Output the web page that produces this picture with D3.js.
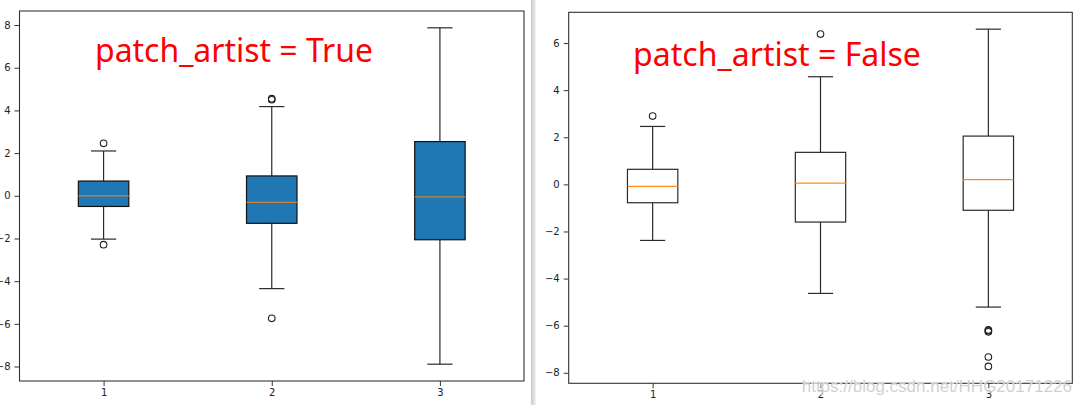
<!DOCTYPE html>
<html>
<head>
<meta charset="utf-8">
<script src="https://cdn.jsdelivr.net/npm/d3@7"></script>
<style>
  html, body { margin: 0; padding: 0; background: #fff; }
  svg { display: block; }
</style>
</head>
<body>
<svg id="chart" width="1083" height="405"></svg>
<script>
// ---------------- data ----------------
const categories = [1, 2, 3];
const yTicks = [-8, -6, -4, -2, 0, 2, 4, 6, 8];

// left panel (patch_artist = True)
const leftWhiskerLow  = [-2.03, -4.35, -7.89];
const leftQ1          = [-0.50, -1.29, -2.06];
const leftMedian      = [ 0.00, -0.31, -0.05];
const leftQ3          = [ 0.69,  0.93,  2.54];
const leftWhiskerHigh = [ 2.10,  4.18,  7.87];
const leftOutliers    = [[2.46, -2.29], [4.50, 4.55, -5.74], []];

// right panel (patch_artist = False)
const rightWhiskerLow  = [-2.38, -4.63, -5.21];
const rightQ1          = [-0.78, -1.60, -1.10];
const rightMedian      = [-0.085, 0.055, 0.20];
const rightQ3          = [ 0.64,  1.36,  2.05];
const rightWhiskerHigh = [ 2.46,  4.57,  6.59];
const rightOutliers    = [[2.90], [6.38], [-6.18, -6.22, -6.26, -7.33, -7.73]];

const titles = ["patch_artist = True", "patch_artist = False"];
const watermark = "https://blog.csdn.net/HHG20171226";

// ---------------- drawing ----------------
const svg = d3.select("#chart");
svg.append("rect").attr("width", 1083).attr("height", 405).attr("fill", "#fff");

function buildStats(lo, q1, med, q3, hi, outs) {
  return categories.map((c, i) => ({
    pos: c, lo: lo[i], q1: q1[i], med: med[i], q3: q3[i], hi: hi[i], outs: outs[i]
  }));
}

function drawPanel(opts) {
  const { stats, frame, patch, title, titleX, titleY, titleWidth } = opts;
  const allVals = stats.flatMap(s => [s.lo, s.hi, ...s.outs]);
  const mn = d3.min(allVals), mx = d3.max(allVals);
  const pad = (mx - mn) * 0.05;
  const y = d3.scaleLinear().domain([mn - pad, mx + pad]).range([frame.bottom, frame.top]);
  const x = d3.scaleLinear().domain([0.5, 3.5]).range([frame.left, frame.right]);
  const boxW = 0.3, capW = 0.15;

  const g = svg.append("g");

  // y axis
  const yAxis = d3.axisLeft(y).tickValues(yTicks).tickSize(5).tickPadding(4)
      .tickFormat(d => d < 0 ? "\u2212" + Math.abs(d) : String(d));
  const ya = g.append("g").attr("transform", `translate(${frame.left},0)`).call(yAxis);
  // x axis
  const xAxis = d3.axisBottom(x).tickValues(categories).tickSize(5).tickPadding(3)
      .tickFormat(d3.format("d"));
  const xa = g.append("g").attr("transform", `translate(0,${frame.bottom})`).call(xAxis);
  [ya, xa].forEach(a => {
    a.select(".domain").remove();
    a.selectAll(".tick line").attr("stroke", "#333");
    a.selectAll(".tick text").attr("fill", "#222")
      .style("font-family", "'DejaVu Sans', sans-serif").style("font-size", "10px");
  });

  // frame
  g.append("rect")
    .attr("x", frame.left).attr("y", frame.top)
    .attr("width", frame.right - frame.left).attr("height", frame.bottom - frame.top)
    .attr("fill", "none").attr("stroke", "#333").attr("stroke-width", 1.1);

  const bx = g.selectAll("g.box").data(stats).join("g").attr("class", "box");
  const lineCol = "#2a2a2a";
  // whiskers
  bx.append("line")
    .attr("x1", d => x(d.pos)).attr("x2", d => x(d.pos))
    .attr("y1", d => y(d.q3)).attr("y2", d => y(d.hi))
    .attr("stroke", lineCol).attr("stroke-width", 1.2);
  bx.append("line")
    .attr("x1", d => x(d.pos)).attr("x2", d => x(d.pos))
    .attr("y1", d => y(d.q1)).attr("y2", d => y(d.lo))
    .attr("stroke", lineCol).attr("stroke-width", 1.2);
  // caps
  ["hi", "lo"].forEach(k => {
    bx.append("line")
      .attr("x1", d => x(d.pos - capW / 2)).attr("x2", d => x(d.pos + capW / 2))
      .attr("y1", d => y(d[k])).attr("y2", d => y(d[k]))
      .attr("stroke", lineCol).attr("stroke-width", 1.2);
  });
  // box
  bx.append("rect")
    .attr("x", d => x(d.pos - boxW / 2)).attr("width", d => x(d.pos + boxW / 2) - x(d.pos - boxW / 2))
    .attr("y", d => y(d.q3)).attr("height", d => y(d.q1) - y(d.q3))
    .attr("fill", patch ? "#1f77b4" : "none")
    .attr("stroke", patch ? "#111" : lineCol).attr("stroke-width", 1.2);
  // median
  bx.append("line")
    .attr("x1", d => x(d.pos - boxW / 2)).attr("x2", d => x(d.pos + boxW / 2))
    .attr("y1", d => y(d.med)).attr("y2", d => y(d.med))
    .attr("stroke", patch ? "#c4843f" : "#ff8c1a").attr("stroke-width", 1.3);
  // fliers
  bx.selectAll("circle").data(d => d.outs.map(v => ({ pos: d.pos, v })))
    .join("circle")
    .attr("cx", d => x(d.pos)).attr("cy", d => y(d.v)).attr("r", 3.3)
    .attr("fill", "none").attr("stroke", "#222").attr("stroke-width", 1.1);

  // annotation text
  const t = g.append("text")
    .attr("x", titleX).attr("y", titleY)
    .attr("fill", "#ff0000")
    .style("font-family", "'Noto Sans', 'Open Sans', sans-serif")
    .style("font-size", "33px")
    .text(title);
  const len = t.node().getComputedTextLength();
  t.style("font-size", (33 * titleWidth / len).toFixed(2) + "px");
}

drawPanel({
  stats: buildStats(leftWhiskerLow, leftQ1, leftMedian, leftQ3, leftWhiskerHigh, leftOutliers),
  frame: { left: 19.5, right: 524, top: 11, bottom: 381 },
  patch: true, title: titles[0], titleX: 95, titleY: 61.5, titleWidth: 278
});

// separator between the two screenshots
const sepGrad = svg.append("defs").append("linearGradient").attr("id", "sep")
  .attr("x1", "0%").attr("x2", "100%");
sepGrad.append("stop").attr("offset", "0%").attr("stop-color", "#c8c8c8");
sepGrad.append("stop").attr("offset", "100%").attr("stop-color", "#f2f2f2");
svg.append("rect").attr("x", 531).attr("y", 0).attr("width", 5).attr("height", 405)
  .attr("fill", "url(#sep)");

drawPanel({
  stats: buildStats(rightWhiskerLow, rightQ1, rightMedian, rightQ3, rightWhiskerHigh, rightOutliers),
  frame: { left: 568.7, right: 1072.3, top: 12.3, bottom: 383.3 },
  patch: false, title: titles[1], titleX: 633, titleY: 66, titleWidth: 288
});

// watermark
svg.append("text")
  .attr("x", 1072).attr("y", 392)
  .attr("text-anchor", "end")
  .attr("fill", "#c8c8c8").attr("fill-opacity", 0.85)
  .attr("stroke", "#fff").attr("stroke-width", 0.6).attr("paint-order", "stroke")
  .style("font-family", "'Liberation Sans', Arial, sans-serif")
  .style("font-size", "17px")
  .text(watermark);
</script>
</body>
</html>
